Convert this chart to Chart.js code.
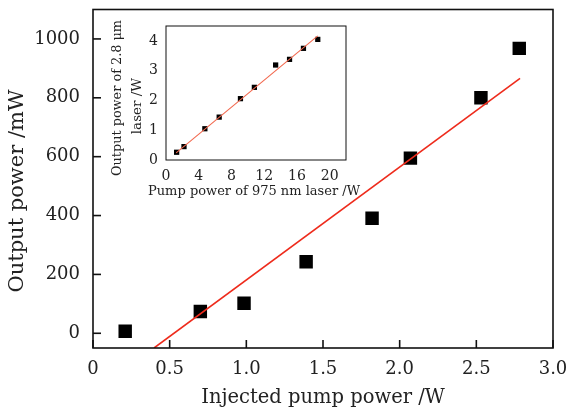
<!DOCTYPE html>
<html>
<head>
<meta charset="utf-8">
<script src="https://cdn.jsdelivr.net/npm/chart.js@4/dist/chart.umd.min.js"></script>
<style>
  body { margin: 0; background: #fff; }
  #wrap { position: relative; width: 570px; height: 416px; }
  #main { position: absolute; left: 0; top: 0; }
  #inset { position: absolute; left: 100px; top: 18px; }
</style>
</head>
<body>
<div id="wrap">
  <canvas id="main" width="570" height="416"></canvas>
  <canvas id="inset" width="265" height="185"></canvas>
</div>
<script>
// main plot data
var pumpPower = [0.21, 0.70, 0.985, 1.39, 1.82, 2.07, 2.53, 2.78];
var outPower  = [7, 74, 102, 243, 391, 595, 800, 968];
var fitX = [0.398, 2.785];
var fitY = [-50, 866];
var mainYTitle = 'Output power /mW';

// inset data
var insetPump = [1.3, 2.2, 4.75, 6.5, 9.1, 10.8, 13.4, 15.1, 16.8, 18.55];
var insetOut  = [0.26, 0.45, 1.05, 1.44, 2.06, 2.44, 3.19, 3.38, 3.75, 4.05];
var insetFitX = [1.24, 18.55];
var insetFitY = [0.24, 4.17];

var insetXTitle = 'Pump power of 975 nm laser /W';
var insetYTitle = ['Output power of 2.8 \u03bcm', 'laser /W'];

function pts(xs, ys) {
    var r = [];
    for (var i = 0; i < xs.length; i++) r.push({x: xs[i], y: ys[i]});
    return r;
}

var serif = "'DejaVu Serif', 'Liberation Serif', serif";

// fixed axis size, no extra label padding
function fixSize(w, h) {
    return function(s) {
        if (w) s.width = w;
        if (h) s.height = h;
        s.paddingTop = 0; s.paddingBottom = 0;
        s.paddingLeft = 0; s.paddingRight = 0;
    };
}

// frame + inward tick marks
var framePlugin = {
    id: 'frame',
    afterDraw: function(chart, args, opts) {
        var ctx = chart.ctx, a = chart.chartArea;
        ctx.save();
        ctx.strokeStyle = '#111';
        ctx.lineWidth = opts.lw || 1.5;
        ctx.strokeRect(a.left, a.top, a.right - a.left, a.bottom - a.top);
        var len = opts.tick || 0;
        if (len) {
            chart.scales.x.ticks.forEach(function(t) {
                var px = chart.scales.x.getPixelForValue(t.value);
                ctx.beginPath(); ctx.moveTo(px, a.bottom); ctx.lineTo(px, a.bottom - len); ctx.stroke();
            });
            chart.scales.y.ticks.forEach(function(t) {
                var py = chart.scales.y.getPixelForValue(t.value);
                ctx.beginPath(); ctx.moveTo(a.left, py); ctx.lineTo(a.left + len, py); ctx.stroke();
            });
        }
        ctx.restore();
    }
};

// main y title, sitting a bit below the centre like the original
var mainTitles = {
    id: 'mainTitles',
    afterDraw: function(chart) {
        var ctx = chart.ctx;
        ctx.save();
        ctx.fillStyle = '#222';
        ctx.font = "21px " + serif;
        ctx.textAlign = 'center';
        ctx.textBaseline = 'middle';
        ctx.translate(18, 191);
        ctx.rotate(-Math.PI / 2);
        ctx.fillText(mainYTitle, 0, 0);
        ctx.restore();
    }
};

// inset axis titles (scale titles get squeezed to the small chart area)
var insetTitles = {
    id: 'insetTitles',
    afterDraw: function(chart) {
        var ctx = chart.ctx, a = chart.chartArea;
        ctx.save();
        ctx.fillStyle = '#222';
        ctx.font = "13.5px " + serif;
        ctx.textAlign = 'center';
        ctx.textBaseline = 'middle';
        ctx.fillText(insetXTitle, (a.left + a.right) / 2 - 2, chart.height - 12, 212);
        ctx.translate(17, 80);
        ctx.rotate(-Math.PI / 2);
        ctx.fillText(insetYTitle[0], 0, 0, 156);
        ctx.fillText(insetYTitle[1], -8, 20);
        ctx.restore();
    }
};

var mainChart = new Chart(document.getElementById('main'), {
    type: 'scatter',
    data: {
        datasets: [{
            type: 'line',
            data: pts(fitX, fitY),
            borderColor: '#ee2b1c',
            borderWidth: 1.6,
            pointRadius: 0,
            fill: false
        }, {
            data: pts(pumpPower, outPower),
            pointStyle: 'rect',
            pointRadius: 9.5,
            backgroundColor: '#000',
            borderColor: '#000',
            borderWidth: 0
        }]
    },
    options: {
        responsive: false,
        animation: false,
        layout: { padding: { top: 4, right: 17, left: 0, bottom: 0 } },
        plugins: { legend: { display: false }, tooltip: { enabled: false }, frame: { tick: 8, lw: 1.6 } },
        scales: {
            x: {
                type: 'linear', min: 0, max: 3,
                grid: { display: false },
                border: { display: false },
                ticks: {
                    stepSize: 0.5, color: '#222', padding: 3,
                    font: { family: serif, size: 18 },
                    callback: function(v) { return v === 0 ? '0' : v.toFixed(1); }
                },
                title: { display: true, text: 'Injected pump power /W', color: '#222',
                         font: { family: serif, size: 19.5 }, padding: { top: 0, bottom: 6 } },
                afterFit: fixSize(0, 68)
            },
            y: {
                type: 'linear', min: -50, max: 1100,
                grid: { display: false },
                border: { display: false },
                afterBuildTicks: function(s) {
                    s.ticks = [0, 200, 400, 600, 800, 1000].map(function(v) { return {value: v}; });
                },
                ticks: { color: '#222', padding: 5, font: { family: serif, size: 18 },
                         callback: function(v) { return String(v); } },
                afterFit: fixSize(93, 0)
            }
        }
    },
    plugins: [framePlugin, mainTitles]
});

var insetChart = new Chart(document.getElementById('inset'), {
    type: 'scatter',
    data: {
        datasets: [{
            type: 'line',
            data: pts(insetFitX, insetFitY),
            borderColor: '#f2684e',
            borderWidth: 1.1,
            pointRadius: 0,
            fill: false
        }, {
            data: pts(insetPump, insetOut),
            pointStyle: 'rect',
            pointRadius: 3.7,
            backgroundColor: '#000',
            borderColor: '#000',
            borderWidth: 0
        }]
    },
    options: {
        responsive: false,
        animation: false,
        layout: { padding: { top: 8, right: 19, left: 0, bottom: 0 } },
        plugins: { legend: { display: false }, tooltip: { enabled: false }, frame: { tick: 0, lw: 1 } },
        scales: {
            x: {
                type: 'linear', min: 0, max: 22,
                grid: { display: false },
                border: { display: false },
                afterBuildTicks: function(s) {
                    s.ticks = [0, 4, 8, 12, 16, 20].map(function(v) { return {value: v}; });
                },
                ticks: { color: '#222', padding: 0, font: { family: serif, size: 14 } },
                afterFit: fixSize(0, 43)
            },
            y: {
                type: 'linear', min: 0, max: 4.5,
                grid: { display: false },
                border: { display: false },
                afterBuildTicks: function(s) {
                    s.ticks = [0, 1, 2, 3, 4].map(function(v) { return {value: v}; });
                },
                ticks: { color: '#222', padding: 0, font: { family: serif, size: 14 } },
                afterFit: fixSize(66, 0)
            }
        }
    },
    plugins: [framePlugin, insetTitles]
});
</script>
</body>
</html>
